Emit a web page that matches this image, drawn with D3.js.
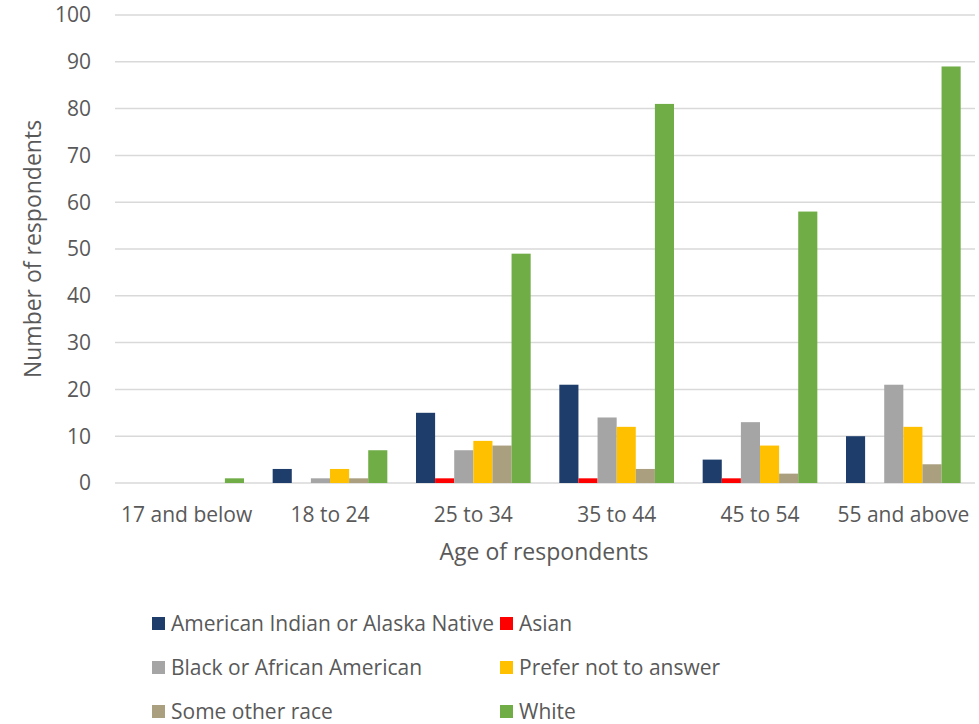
<!DOCTYPE html>
<html><head><meta charset="utf-8">
<script src="https://cdn.jsdelivr.net/npm/d3@7"></script>
<style>body{margin:0;background:#fff;} text{font-family:"Open Sans", sans-serif;fill:#595959;}</style>
</head><body>
<svg id="chart" width="979" height="724"></svg>
<script>
const categories = ["17 and below","18 to 24","25 to 34","35 to 44","45 to 54","55 and above"];
const seriesNames = ["American Indian or Alaska Native","Asian","Black or African American","Prefer not to answer","Some other race","White"];
const seriesColors = ["#1f3d6b","#ff0000","#a5a5a5","#ffc000","#aa9f7e","#70ad47"];
const americanIndian = [0,3,15,21,5,10];
const asian = [0,0,1,1,1,0];
const black = [0,1,7,14,13,21];
const preferNot = [0,3,9,12,8,12];
const otherRace = [0,1,8,3,2,4];
const white = [1,7,49,81,58,89];
const yTicks = [0,10,20,30,40,50,60,70,80,90,100];
const series = [americanIndian, asian, black, preferNot, otherRace, white];

const svg = d3.select("#chart");
const pLeft = 115, pRight = 975, pTop = 15, pBottom = 483;
const x = d3.scaleBand().domain(categories).range([pLeft,pRight]).paddingInner(0.2).paddingOuter(0.1);
const xi = d3.scaleBand().domain(seriesNames).range([0,x.bandwidth()]);
const y = d3.scaleLinear().domain([0,100]).range([pBottom,pTop]);

// gridlines
svg.append("g").selectAll("line").data(yTicks).join("line")
  .attr("x1",pLeft).attr("x2",pRight).attr("y1",d=>y(d)).attr("y2",d=>y(d))
  .attr("stroke","#d9d9d9").attr("stroke-width",1.5);

// y labels
svg.append("g").selectAll("text").data(yTicks).join("text")
  .attr("x",91).attr("y",d=>y(d)).attr("dy","0.35em").attr("text-anchor","end")
  .attr("font-size",21).text(d=>d);

// bars
seriesNames.forEach((s,si)=>{
  svg.append("g").selectAll("rect").data(categories).join("rect")
    .attr("x",c=>x(c)+xi(s)).attr("width",xi.bandwidth())
    .attr("y",(c,i)=>y(series[si][i])).attr("height",(c,i)=>pBottom-y(series[si][i]))
    .attr("fill",seriesColors[si]);
});

// x labels
svg.append("g").selectAll("text").data(categories).join("text")
  .attr("x",c=>x(c)+x.bandwidth()/2).attr("y",522).attr("text-anchor","middle")
  .attr("font-size",21).text(d=>d);

// axis titles
svg.append("text").attr("x",544).attr("y",560).attr("text-anchor","middle").attr("font-size",23).text("Age of respondents");
svg.append("text").attr("transform","translate(41,249) rotate(-90)").attr("text-anchor","middle").attr("font-size",23).text("Number of respondents");

// legend
const legPos = [[152,624],[500,624],[152,668],[500,668],[152,712],[500,712]];
seriesNames.forEach((s,i)=>{
  const [lx,ly] = legPos[i];
  svg.append("rect").attr("x",lx).attr("y",ly-7).attr("width",13).attr("height",13).attr("fill",seriesColors[i]);
  svg.append("text").attr("x",lx+19).attr("y",ly).attr("dy","0.35em").attr("font-size",21).text(s);
});
</script>
</body></html>
